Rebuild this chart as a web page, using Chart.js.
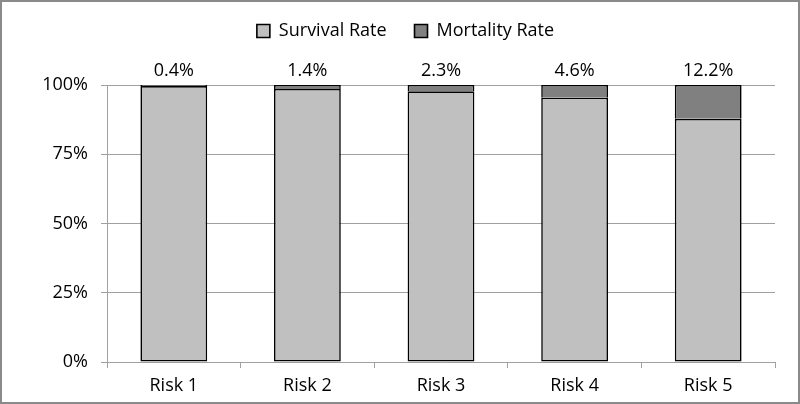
<!DOCTYPE html>
<html>
<head>
<meta charset="utf-8">
<script src="https://cdn.jsdelivr.net/npm/chart.js@4"></script>
<style>
  html, body { margin: 0; padding: 0; background: #fff; }
  #wrap { width: 800px; height: 404px; }
</style>
</head>
<body>
<div id="wrap"><canvas id="grafico"></canvas></div>
<script>
const categorias = ['Risk 1', 'Risk 2', 'Risk 3', 'Risk 4', 'Risk 5'];
const sobrevivencia = [99.6, 98.6, 97.7, 95.4, 87.8];
const mortalidade = [0.4, 1.4, 2.3, 4.6, 12.2];
const rotulos = ['0.4%', '1.4%', '2.3%', '4.6%', '12.2%'];
const ticksY = [0, 25, 50, 75, 100];

const fonte = "'Open Sans', 'Liberation Sans', sans-serif";
Chart.defaults.font.family = fonte;
Chart.defaults.font.size = 18;
Chart.defaults.color = '#000';

// fundo branco e moldura cinza
const moldura = {
  id: 'moldura',
  beforeDraw(chart) {
    const c = chart.ctx;
    c.save();
    c.fillStyle = '#fff';
    c.fillRect(0, 0, chart.width, chart.height);
    c.strokeStyle = '#8a8a8a';
    c.lineWidth = 2;
    c.strokeRect(1, 1, chart.width - 2, chart.height - 2);
    c.restore();
  }
};

// espaço fixo entre legenda e área do gráfico, legenda um pouco à direita
const ajusteLegenda = {
  id: 'ajusteLegenda',
  beforeInit(chart) {
    const fitOriginal = chart.legend.fit;
    chart.legend.fit = function () {
      fitOriginal.bind(chart.legend)();
      this.height = 91;
    };
  },
  afterLayout(chart) {
    chart.legend.left += 18;
    chart.legend.right += 18;
  }
};

// rótulos de mortalidade em cima das barras
const rotulosTopo = {
  id: 'rotulosTopo',
  afterDatasetsDraw(chart) {
    const c = chart.ctx;
    const meta = chart.getDatasetMeta(1);
    c.save();
    c.font = '18px ' + fonte;
    c.fillStyle = '#000';
    c.textAlign = 'center';
    c.textBaseline = 'alphabetic';
    meta.data.forEach((barra, i) => {
      c.fillText(rotulos[i], barra.x, barra.y - 9);
    });
    c.restore();
  }
};

new Chart(document.getElementById('grafico'), {
  type: 'bar',
  data: {
    labels: categorias,
    datasets: [{
      label: 'Survival Rate',
      data: sobrevivencia,
      backgroundColor: '#c0c0c0',
      borderColor: '#000',
      borderWidth: 1.6,
      borderSkipped: false
    }, {
      label: 'Mortality Rate',
      data: mortalidade,
      backgroundColor: '#808080',
      borderColor: '#000',
      borderWidth: 1.6,
      borderSkipped: 'bottom'
    }]
  },
  options: {
    responsive: true,
    maintainAspectRatio: false,
    animation: false,
    layout: { padding: { left: 0, right: 25, top: -6, bottom: 0 } },
    datasets: { bar: { categoryPercentage: 1, barPercentage: 0.5 } },
    plugins: {
      legend: {
        position: 'top',
        labels: { boxWidth: 13, boxHeight: 13, padding: 28, font: { size: 18 } }
      },
      tooltip: { enabled: false }
    },
    scales: {
      x: {
        stacked: true,
        afterFit: (s) => { s.height = 42; },
        grid: { offset: true, drawOnChartArea: false, color: '#a0a0a0', tickLength: 6 },
        border: { color: '#a0a0a0' },
        ticks: { padding: 7 }
      },
      y: {
        stacked: true,
        min: 0,
        max: 100,
        afterFit: (s) => { s.width = 107; },
        afterBuildTicks: (s) => { s.ticks = ticksY.map((v) => ({ value: v })); },
        ticks: { padding: 13, callback: (v) => v + '%' },
        grid: { color: '#a0a0a0', tickLength: 6 },
        border: { color: '#a0a0a0' }
      }
    }
  },
  plugins: [moldura, ajusteLegenda, rotulosTopo]
});
</script>
</body>
</html>
